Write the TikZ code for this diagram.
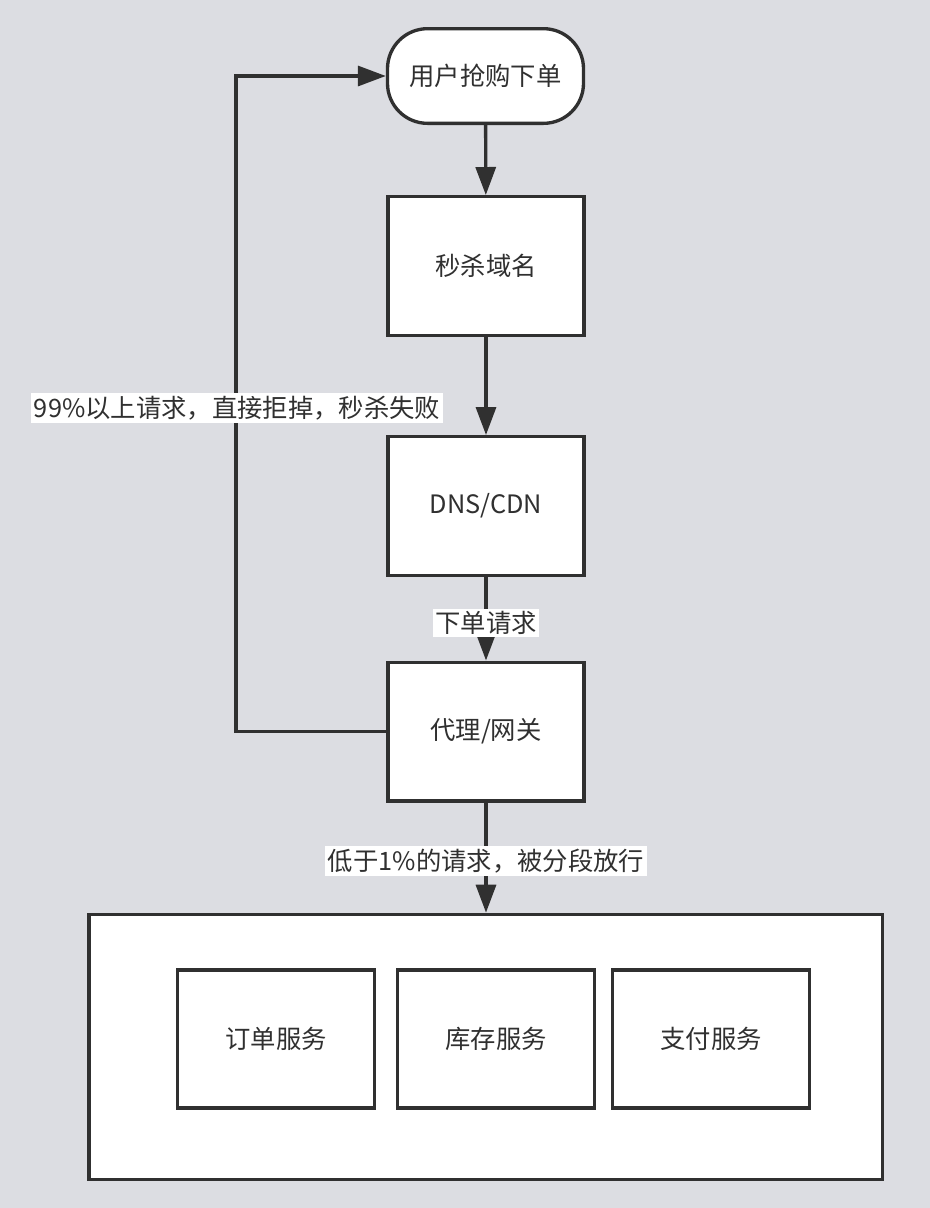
\documentclass[tikz,border=0pt]{standalone}
\usepackage{fontspec}
\setmainfont{Noto Sans CJK SC}
\usetikzlibrary{arrows.meta}
\definecolor{bgc}{HTML}{DCDDE2}
\definecolor{ink}{HTML}{303030}
\begin{document}
\begin{tikzpicture}[x=0.75pt,y=-0.75pt,
  every node/.style={font=\fontsize{19}{22}\selectfont, text=ink},
  box/.style={draw=ink, line width=2.5pt, fill=white, minimum width=147pt, minimum height=104pt, inner sep=0pt},
  svc/.style={box, minimum width=148pt, minimum height=103.5pt},
  term/.style={box, minimum height=71pt, rounded corners=30pt},
  big/.style={draw=ink, line width=2.5pt, fill=white, minimum width=595pt, minimum height=199pt, inner sep=0pt},
  conn/.style={draw=ink, line width=2.5pt, -{Triangle[length=21pt,width=15pt]}},
  lbl/.style={fill=white, inner sep=2pt}]
\fill[bgc] (0,0) rectangle (930,1208);
\useasboundingbox (0,0) rectangle (930,1208);
\node[term] (user) at (485.5,76) {用户抢购下单};
\node[box] (domain) at (486,266) {秒杀域名};
\node[box] (dns) at (486,506) {DNS/CDN};
\node[box] (proxy) at (486,731.5) {代理/网关};
\node[big] (cluster) at (485.5,1047) {};
\node[svc] (order) at (276,1039) {订单服务};
\node[svc] (stock) at (496,1039) {库存服务};
\node[svc] (pay) at (711,1039) {支付服务};
\coordinate (lp) at (236,731.5);
\draw[conn] (user) -- (domain);
\draw[conn] (domain) -- (dns);
\draw[conn] (dns) -- node[lbl, pos=0.55] (l1) {下单请求} (proxy);
\draw[conn] (proxy) -- node[lbl, pos=0.53] (l2) {低于1\%的请求，被分段放行} (cluster.north -| proxy.south);
\draw[conn] (proxy.west) -- (lp) |- (user.west);
\node[lbl] (l3) at (237,408) {99\%以上请求，直接拒掉，秒杀失败};
\end{tikzpicture}
\end{document}
